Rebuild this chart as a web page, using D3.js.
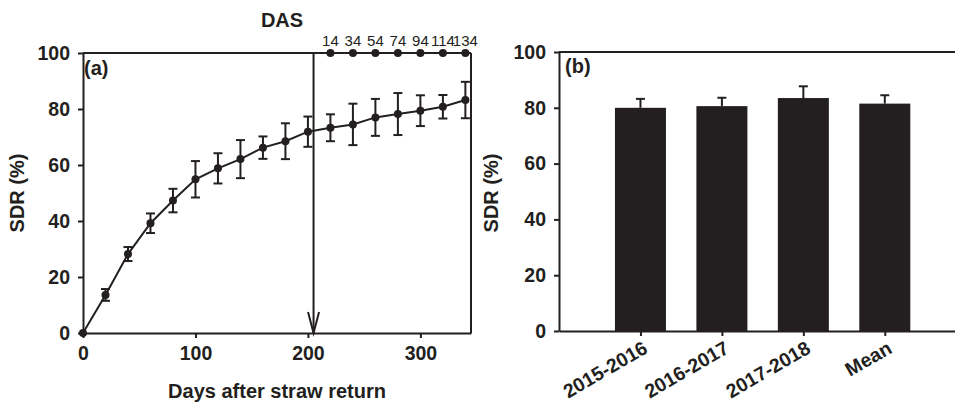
<!DOCTYPE html>
<html><head><meta charset="utf-8">
<script src="https://cdn.jsdelivr.net/npm/d3@7"></script>
<style>body{margin:0;background:#fff}svg{display:block}text{font-family:"Liberation Sans",Arial,sans-serif;fill:#231f20}</style>
</head><body><div id="chart"></div>
<script>
// Panel (a) data
const days = [0,20,40,60,80,100,120,140,160,180,200,220,240,260,280,300,320,340];
const sdr = [0,13.6,28.2,39.2,47.3,54.9,58.8,62.1,66.2,68.5,71.9,73.3,74.5,77.0,78.2,79.4,80.8,83.2];
const sdrErr = [0,2.1,2.5,3.5,4.2,6.5,5.4,6.8,4.0,6.4,5.4,4.8,7.4,6.6,7.5,5.5,4.2,6.5];
const xTicksA = [0,100,200,300];
const yTicks = [0,20,40,60,80,100];
const arrowDay = [205];
const dasDays = [220,240,260,280,300,320,340];
const dasLabels = ["14","34","54","74","94","114","134"];
// Panel (b) data
const years = ["2015-2016","2016-2017","2017-2018","Mean"];
const yearSdr = [80.0,80.6,83.5,81.5];
const yearErr = [3.2,3.0,4.2,3.0];

const W=955,H=402,ink="#231f20";
const svg=d3.select("#chart").append("svg").attr("width",W).attr("height",H);
function styleAxis(a,fs){
  a.selectAll("path,line").attr("stroke",ink).attr("stroke-width",2);
  a.selectAll("text").attr("font-size",fs).attr("font-weight","bold").attr("fill",ink)
   .attr("font-family","Liberation Sans, Arial, sans-serif");
}

// ---------- Panel (a)
const xa=d3.scaleLinear().domain([0,345]).range([83,471]);
const ya=d3.scaleLinear().domain([0,100]).range([333,53]);
const ga=svg.append("g");
const axA=ga.append("g").attr("transform","translate(0,333)")
  .call(d3.axisBottom(xa).tickValues(xTicksA).tickSize(5).tickPadding(8).tickSizeOuter(0));
const ayA=ga.append("g").attr("transform","translate(83,0)")
  .call(d3.axisLeft(ya).tickValues(yTicks).tickSize(5).tickPadding(8).tickSizeOuter(0));
styleAxis(axA,19.5); styleAxis(ayA,19.5);
// frame top & right
ga.append("line").attr("x1",xa(0)).attr("x2",xa(345)).attr("y1",ya(100)).attr("y2",ya(100)).attr("stroke",ink).attr("stroke-width",2);
ga.append("line").attr("x1",xa(345)).attr("x2",xa(345)).attr("y1",ya(100)).attr("y2",ya(0)).attr("stroke",ink).attr("stroke-width",2);
// arrow
arrowDay.forEach(d=>{
  const x=xa(d);
  ga.append("line").attr("x1",x).attr("x2",x).attr("y1",ya(100)).attr("y2",ya(0)).attr("stroke",ink).attr("stroke-width",2);
  ga.append("path").attr("d",`M${x-5.5},${ya(0)-21}L${x},${ya(0)}L${x+5.5},${ya(0)-21}`).attr("fill","none").attr("stroke",ink).attr("stroke-width",2);
});
// DAS top axis
ga.selectAll("circle.das").data(dasDays).join("circle").attr("class","das")
  .attr("cx",d=>xa(d)).attr("cy",ya(100)).attr("r",4).attr("fill",ink);
ga.selectAll("text.das").data(dasDays).join("text").attr("class","das")
  .attr("x",d=>xa(d)).attr("y",46).attr("text-anchor","middle").attr("font-size",15).text((d,i)=>dasLabels[i]);
ga.append("text").attr("x",282).attr("y",27).attr("text-anchor","middle").attr("font-size",20).attr("font-weight","bold").text("DAS");
// error bars
const pts=days.map((d,i)=>({x:d,y:sdr[i],e:sdrErr[i]}));
const eb=ga.append("g").attr("stroke",ink).attr("stroke-width",2);
pts.filter(p=>p.e>0).forEach(p=>{
  const x=xa(p.x);
  eb.append("line").attr("x1",x).attr("x2",x).attr("y1",ya(p.y-p.e)).attr("y2",ya(p.y+p.e));
  eb.append("line").attr("x1",x-4.5).attr("x2",x+4.5).attr("y1",ya(p.y-p.e)).attr("y2",ya(p.y-p.e));
  eb.append("line").attr("x1",x-4.5).attr("x2",x+4.5).attr("y1",ya(p.y+p.e)).attr("y2",ya(p.y+p.e));
});
ga.append("path").datum(pts).attr("fill","none").attr("stroke",ink).attr("stroke-width",2)
  .attr("d",d3.line().x(p=>xa(p.x)).y(p=>ya(p.y)));
ga.selectAll("circle.pt").data(pts).join("circle").attr("class","pt")
  .attr("cx",p=>xa(p.x)).attr("cy",p=>ya(p.y)).attr("r",4).attr("fill",ink);
ga.append("text").attr("x",84).attr("y",75).attr("font-size",20).attr("font-weight","bold").text("(a)");
ga.append("text").attr("transform","translate(24,193) rotate(-90)").attr("text-anchor","middle")
  .attr("font-size",20).attr("font-weight","bold").text("SDR (%)");
ga.append("text").attr("x",277).attr("y",398).attr("text-anchor","middle")
  .attr("font-size",20).attr("font-weight","bold").text("Days after straw return");

// ---------- Panel (b)
const xb=d3.scalePoint().domain(years).range([559,559+5*81.45]).padding(1);
const yb=d3.scaleLinear().domain([0,100]).range([331,52]);
const gb=svg.append("g");
const bw=51;
gb.selectAll("rect.bar").data(years).join("rect").attr("class","bar")
  .attr("x",d=>xb(d)-bw/2).attr("width",bw).attr("y",(d,i)=>yb(yearSdr[i])).attr("height",(d,i)=>yb(0)-yb(yearSdr[i])).attr("fill",ink);
const ebb=gb.append("g").attr("stroke",ink).attr("stroke-width",2);
years.forEach((d,i)=>{
  const x=xb(d);
  ebb.append("line").attr("x1",x).attr("x2",x).attr("y1",yb(yearSdr[i])).attr("y2",yb(yearSdr[i]+yearErr[i]));
  ebb.append("line").attr("x1",x-4.5).attr("x2",x+4.5).attr("y1",yb(yearSdr[i]+yearErr[i])).attr("y2",yb(yearSdr[i]+yearErr[i]));
});
const axB=gb.append("g").attr("transform","translate(0,331)")
  .call(d3.axisBottom(xb).tickSize(5).tickPadding(6).tickSizeOuter(0));
const ayB=gb.append("g").attr("transform","translate(559,0)")
  .call(d3.axisLeft(yb).tickValues(yTicks).tickSize(5).tickPadding(8).tickSizeOuter(0));
styleAxis(axB,19.5); styleAxis(ayB,19.5);
axB.selectAll(".tick text").attr("text-anchor","end").attr("dy",0).attr("y",0).attr("x",0)
  .attr("transform","translate(8,21) rotate(-30)");
gb.append("line").attr("x1",559).attr("x2",W).attr("y1",yb(100)).attr("y2",yb(100)).attr("stroke",ink).attr("stroke-width",2);
gb.append("text").attr("x",565).attr("y",73).attr("font-size",20).attr("font-weight","bold").text("(b)");
gb.append("text").attr("transform","translate(498,193) rotate(-90)").attr("text-anchor","middle")
  .attr("font-size",20).attr("font-weight","bold").text("SDR (%)");
</script></body></html>
